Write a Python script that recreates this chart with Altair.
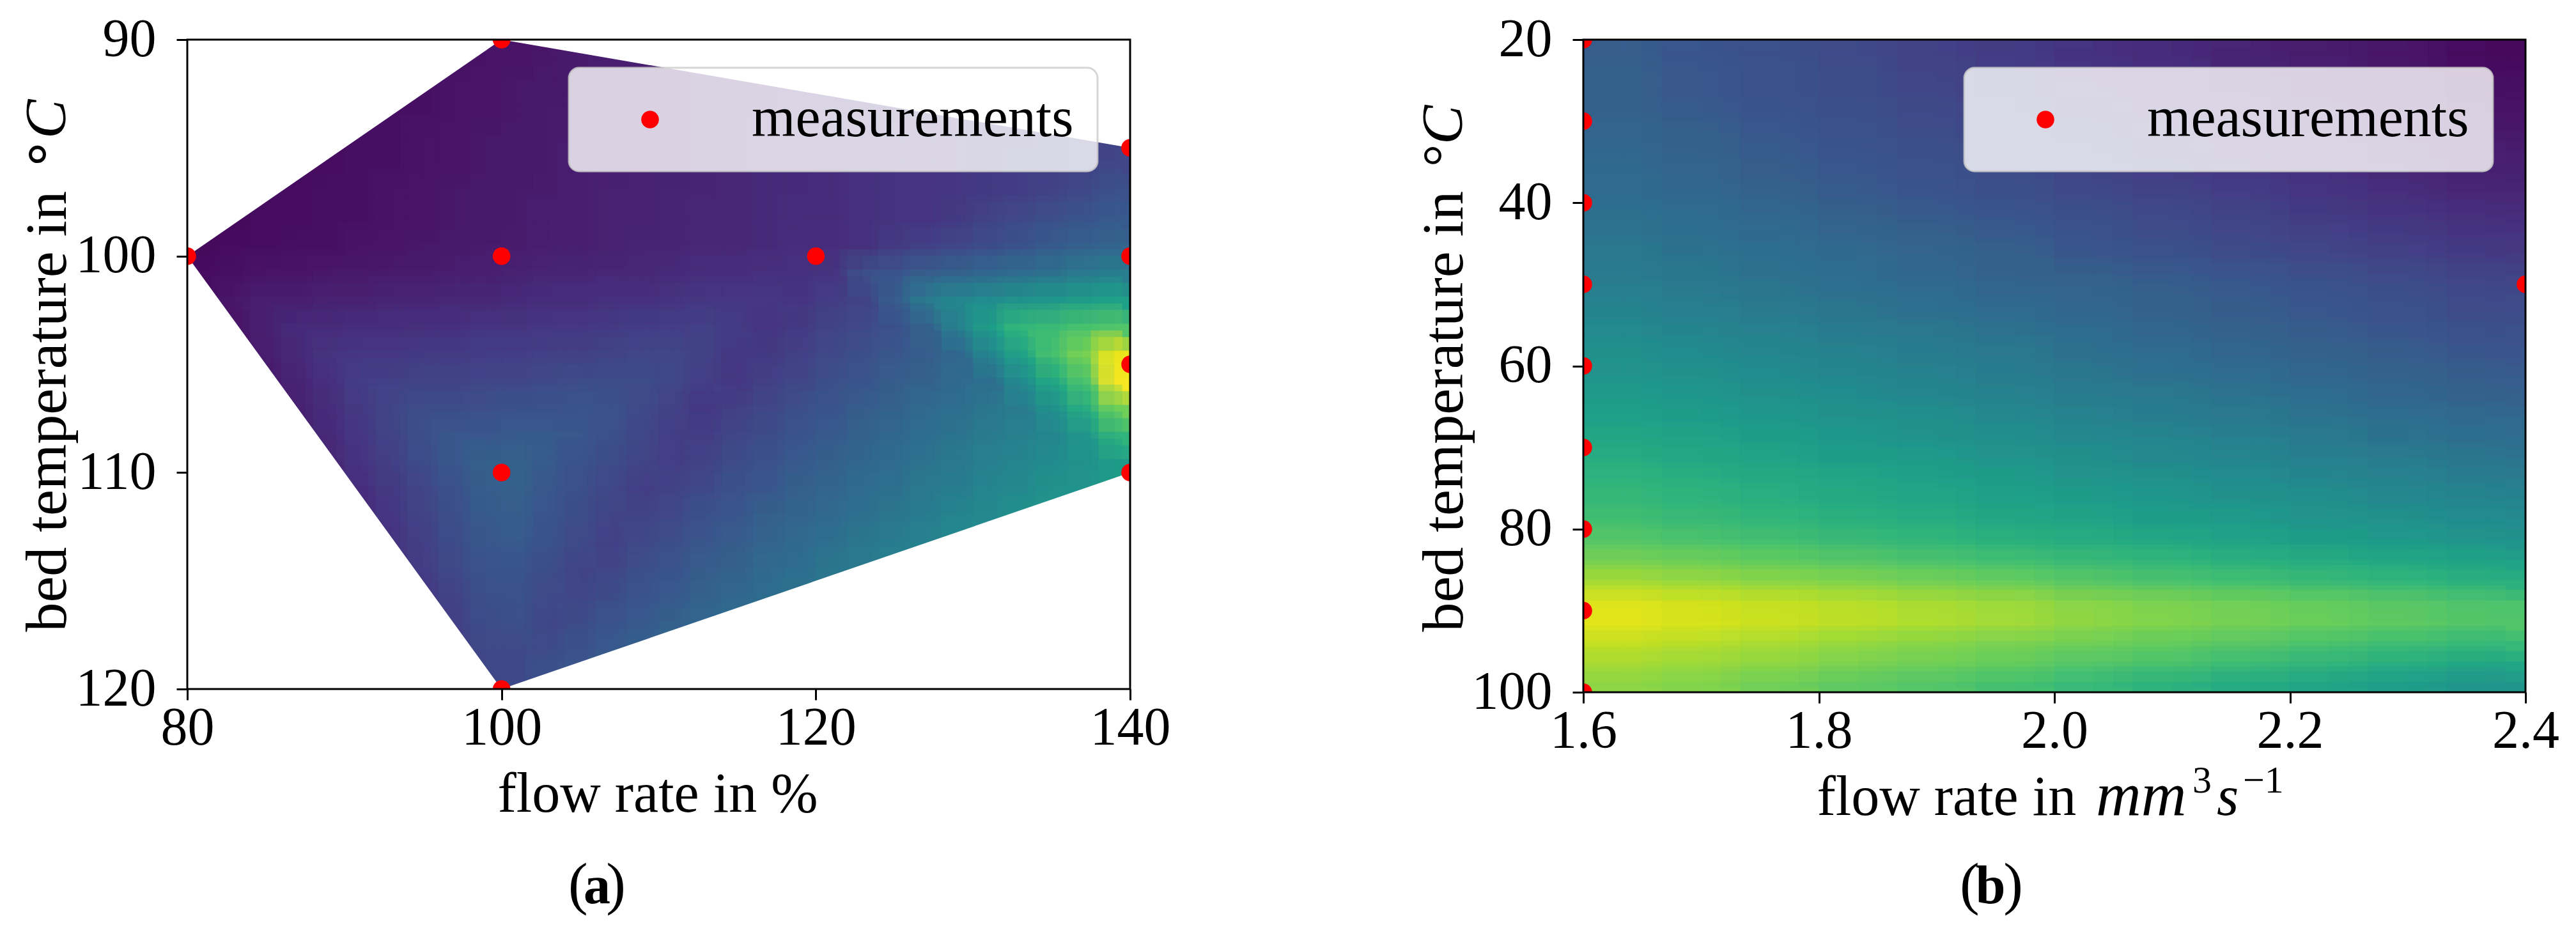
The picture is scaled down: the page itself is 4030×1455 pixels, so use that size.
import altair as alt
import pandas as pd

SERIF = "Liberation Serif"
LEGEND_LABEL = "measurements"

# Panel (a): colour level (0 = darkest, 1 = brightest), one list per row,
# flow rate 80..140 in 30 columns, bed temperature 90..120 in 24 rows
a_r01 = [.00,.01,.01,.02,.02,.03,.03,.04,.04,.05,.05,.06,.07,.08,.08,.09,.10,.11,.11,.12,.13,.14,.14,.15,.16,.17,.17,.18,.19,.19]
a_r02 = [.01,.01,.02,.02,.03,.03,.04,.04,.05,.05,.06,.06,.07,.08,.08,.09,.10,.11,.11,.12,.13,.14,.14,.15,.16,.17,.17,.18,.19,.19]
a_r03 = [.01,.01,.02,.02,.03,.03,.04,.04,.05,.05,.06,.07,.07,.08,.09,.09,.10,.11,.11,.12,.13,.14,.14,.15,.16,.17,.17,.18,.19,.20]
a_r04 = [.01,.02,.02,.03,.03,.04,.04,.05,.05,.06,.06,.07,.07,.08,.09,.09,.10,.11,.12,.12,.13,.14,.15,.15,.16,.17,.17,.18,.19,.20]
a_r05 = [.01,.02,.02,.03,.03,.04,.04,.05,.05,.06,.06,.07,.08,.08,.09,.09,.10,.11,.12,.12,.13,.14,.15,.15,.16,.17,.18,.18,.19,.21]
a_r06 = [.02,.02,.03,.03,.04,.04,.05,.05,.06,.06,.07,.07,.08,.09,.09,.10,.10,.11,.12,.12,.13,.14,.15,.15,.16,.17,.18,.20,.22,.25]
a_r07 = [.02,.02,.03,.03,.04,.04,.05,.05,.06,.06,.07,.08,.08,.09,.09,.10,.11,.11,.12,.13,.13,.14,.15,.15,.17,.20,.22,.24,.26,.28]
a_r08 = [.02,.03,.03,.04,.04,.05,.05,.06,.06,.07,.07,.08,.08,.09,.10,.10,.11,.11,.12,.13,.13,.14,.17,.19,.21,.23,.25,.28,.30,.32]
a_r09 = [.03,.04,.05,.05,.06,.06,.07,.07,.08,.08,.09,.10,.10,.11,.11,.12,.13,.13,.14,.14,.15,.24,.26,.29,.31,.33,.35,.37,.40,.42]
a_r10 = [.03,.06,.08,.08,.09,.09,.10,.10,.11,.11,.12,.13,.13,.14,.14,.15,.16,.16,.16,.15,.18,.20,.29,.41,.46,.48,.51,.53,.55,.57]
a_r11 = [.03,.05,.09,.12,.12,.13,.13,.14,.14,.15,.15,.16,.16,.17,.18,.18,.19,.17,.15,.17,.20,.22,.25,.31,.44,.56,.66,.68,.71,.73]
a_r12 = [.03,.05,.08,.12,.15,.16,.16,.17,.17,.18,.18,.19,.19,.20,.21,.21,.19,.16,.17,.19,.22,.24,.27,.29,.33,.46,.58,.71,.80,.97]
a_r13 = [.03,.05,.06,.10,.14,.18,.19,.20,.20,.21,.21,.22,.23,.23,.23,.21,.18,.16,.19,.21,.24,.26,.29,.31,.34,.36,.48,.60,.72,.99]
a_r14 = [.03,.05,.06,.09,.13,.17,.21,.23,.23,.24,.25,.25,.26,.25,.22,.19,.16,.19,.21,.24,.26,.29,.31,.34,.36,.39,.41,.50,.62,.78]
a_r15 = [.03,.05,.06,.08,.12,.16,.20,.24,.27,.27,.28,.28,.27,.24,.21,.18,.18,.21,.23,.26,.28,.31,.33,.36,.38,.41,.43,.46,.52,.65]
a_r16 = [.03,.05,.06,.08,.11,.15,.19,.23,.27,.30,.31,.28,.25,.23,.20,.18,.20,.23,.25,.28,.30,.33,.35,.38,.40,.43,.45,.48,.50,.54]
a_r17 = [.03,.05,.06,.08,.10,.13,.17,.21,.25,.29,.30,.27,.24,.21,.18,.20,.22,.25,.27,.30,.32,.35,.37,.40,.42,.45,.47,.50,.52,.55]
a_r18 = [.03,.05,.06,.08,.10,.12,.16,.20,.24,.28,.29,.26,.23,.20,.20,.22,.25,.27,.30,.32,.34,.37,.39,.42,.45,.47,.50,.52,.55,.57]
a_r19 = [.03,.05,.06,.08,.10,.12,.15,.19,.23,.27,.28,.25,.22,.19,.22,.24,.27,.29,.32,.34,.37,.39,.42,.44,.47,.49,.52,.54,.57,.59]
a_r20 = [.03,.05,.06,.08,.10,.12,.14,.18,.22,.26,.26,.23,.20,.21,.24,.26,.29,.31,.34,.36,.39,.41,.44,.46,.49,.51,.54,.56,.59,.61]
a_r21 = [.03,.05,.06,.08,.10,.12,.14,.16,.20,.24,.25,.22,.21,.23,.26,.28,.31,.33,.36,.38,.41,.43,.46,.48,.51,.53,.56,.58,.61,.63]
a_r22 = [.03,.05,.06,.08,.10,.12,.14,.16,.19,.23,.24,.21,.23,.26,.28,.31,.33,.36,.38,.41,.43,.46,.48,.51,.53,.56,.58,.61,.63,.66]
a_r23 = [.03,.05,.06,.08,.10,.12,.14,.16,.18,.22,.22,.23,.25,.28,.30,.33,.35,.38,.40,.43,.45,.48,.50,.53,.55,.58,.60,.63,.65,.68]
a_r24 = [.03,.05,.06,.08,.10,.12,.14,.16,.18,.21,.22,.25,.27,.30,.32,.35,.37,.40,.42,.45,.47,.50,.52,.55,.57,.60,.62,.65,.67,.70]
a_rows = [a_r01,a_r02,a_r03,a_r04,a_r05,a_r06,a_r07,a_r08,a_r09,a_r10,a_r11,a_r12,
          a_r13,a_r14,a_r15,a_r16,a_r17,a_r18,a_r19,a_r20,a_r21,a_r22,a_r23,a_r24]

# Panel (a): outline of the coloured region
a_hull_x = [80, 100, 140]
a_hull_top = [100, 90, 95]
a_hull_bottom = [100, 120, 110]

# Panel (a): measurements
a_meas_x = [80, 100, 100, 100, 100, 120, 140, 140, 140, 140]
a_meas_y = [100, 90, 100, 110, 120, 100, 95, 100, 105, 110]

# Panel (b): colour level, flow rate 1.6..2.4 in 12 columns, bed temperature 20..100 in 32 rows
b_r01 = [.29,.26,.24,.22,.19,.17,.14,.12,.09,.07,.05,.02]
b_r02 = [.30,.27,.25,.23,.20,.18,.15,.13,.10,.08,.06,.03]
b_r03 = [.30,.27,.25,.23,.21,.18,.16,.13,.11,.09,.07,.04]
b_r04 = [.31,.28,.26,.24,.22,.19,.17,.15,.12,.10,.08,.05]
b_r05 = [.32,.30,.27,.25,.23,.20,.18,.16,.13,.11,.09,.06]
b_r06 = [.33,.31,.28,.26,.24,.22,.19,.17,.15,.13,.10,.08]
b_r07 = [.34,.32,.29,.27,.25,.23,.20,.18,.16,.14,.11,.09]
b_r08 = [.35,.33,.31,.28,.26,.24,.22,.20,.18,.15,.13,.11]
b_r09 = [.37,.35,.33,.30,.28,.26,.24,.22,.20,.17,.15,.13]
b_r10 = [.38,.36,.34,.32,.30,.28,.25,.23,.21,.19,.17,.15]
b_r11 = [.40,.38,.36,.34,.32,.30,.27,.25,.23,.21,.19,.17]
b_r12 = [.41,.39,.37,.35,.33,.31,.30,.28,.26,.24,.22,.20]
b_r13 = [.43,.41,.39,.37,.35,.33,.32,.30,.28,.26,.24,.22]
b_r14 = [.45,.43,.41,.39,.37,.35,.33,.31,.29,.27,.25,.23]
b_r15 = [.48,.46,.44,.42,.40,.38,.35,.33,.31,.29,.27,.25]
b_r16 = [.50,.48,.46,.44,.42,.40,.37,.35,.33,.31,.29,.27]
b_r17 = [.52,.50,.48,.46,.44,.42,.39,.37,.35,.33,.31,.29]
b_r18 = [.55,.53,.51,.48,.46,.44,.42,.40,.38,.35,.33,.31]
b_r19 = [.57,.55,.53,.51,.49,.47,.44,.42,.40,.38,.36,.34]
b_r20 = [.60,.58,.56,.53,.51,.49,.47,.45,.43,.40,.38,.36]
b_r21 = [.62,.60,.58,.56,.54,.52,.49,.47,.45,.43,.41,.39]
b_r22 = [.65,.63,.61,.59,.57,.55,.52,.50,.48,.46,.44,.42]
b_r23 = [.67,.65,.63,.61,.59,.57,.55,.53,.51,.49,.47,.45]
b_r24 = [.70,.68,.66,.64,.62,.60,.58,.56,.54,.52,.50,.48]
b_r25 = [.74,.72,.70,.68,.66,.64,.62,.60,.58,.56,.54,.52]
b_r26 = [.80,.78,.76,.74,.72,.70,.68,.66,.64,.62,.60,.58]
b_r27 = [.87,.85,.83,.81,.79,.77,.74,.72,.70,.68,.66,.64]
b_r28 = [.95,.93,.91,.89,.87,.85,.82,.80,.78,.76,.74,.72]
b_r29 = [.96,.94,.92,.90,.88,.86,.83,.81,.79,.77,.75,.73]
b_r30 = [.91,.89,.87,.84,.82,.80,.78,.76,.74,.71,.69,.67]
b_r31 = [.87,.85,.83,.80,.78,.76,.73,.71,.68,.65,.62,.59]
b_r32 = [.83,.81,.78,.75,.73,.70,.67,.64,.61,.58,.55,.52]
b_rows = [b_r01,b_r02,b_r03,b_r04,b_r05,b_r06,b_r07,b_r08,b_r09,b_r10,b_r11,b_r12,
          b_r13,b_r14,b_r15,b_r16,b_r17,b_r18,b_r19,b_r20,b_r21,b_r22,b_r23,b_r24,
          b_r25,b_r26,b_r27,b_r28,b_r29,b_r30,b_r31,b_r32]

# Panel (b): measurements
b_meas_x = [1.6, 1.6, 1.6, 1.6, 1.6, 1.6, 1.6, 1.6, 1.6, 2.4]
b_meas_y = [20, 30, 40, 50, 60, 70, 80, 90, 100, 50]

a_x_ticks = [80, 100, 120, 140]
a_y_ticks = [90, 100, 110, 120]
b_x_ticks = [1.6, 1.8, 2.0, 2.2, 2.4]
b_y_ticks = [20, 40, 60, 80, 100]


def cells(rows, x0, x1, y0, y1, fx=0.0, fy=0.0):
    nr, nc = len(rows), len(rows[0])
    dx, dy = (x1 - x0) / nc, (y1 - y0) / nr
    return pd.DataFrame([
        dict(x=x0 + (c + fx) * dx, xe=x0 + (c + 1 + fx) * dx,
             y=y0 + (r + fy) * dy, ye=y0 + (r + 1 + fy) * dy, v=val)
        for r, row in enumerate(rows) for c, val in enumerate(row)
    ])


def text(s, x, y, size=88, angle=0, style="normal", weight="normal", align="left", font=SERIF):
    return alt.Chart(pd.DataFrame({"t": [s]})).mark_text(
        font=font, fontSize=size, angle=angle, fontStyle=style, fontWeight=weight,
        align=align, baseline="alphabetic", color="black", clip=False,
    ).encode(text="t:N", x=alt.value(x), y=alt.value(y))


def panel(rows, xdom, ydom, xticks, yticks, xfmt, xname, yname, W, H, titleX_x, titleY_y,
          meas_x, meas_y, legX, extras, masks=()):
    xs = alt.Scale(domain=xdom, nice=False, zero=False)
    ys = alt.Scale(domain=ydom, nice=False, zero=False, reverse=True)
    xax = alt.Axis(values=xticks, format=xfmt, title=xname, grid=False, domain=False,
                   tickSize=17, tickWidth=3, tickColor="black", labelFont=SERIF,
                   labelFontSize=84, labelColor="black", labelPadding=3, labelOverlap=False,
                   labelFlush=False, titleFont=SERIF, titleFontSize=88, titleFontWeight="normal",
                   titleColor="black", titleX=titleX_x, titleY=191, titleAlign="left",
                   titleBaseline="alphabetic")
    yax = alt.Axis(values=yticks, title=yname, grid=False, domain=False,
                   tickSize=17, tickWidth=3, tickColor="black", labelFont=SERIF,
                   labelFontSize=84, labelColor="black", labelPadding=32, labelOverlap=False,
                   labelFlush=False, titleFont=SERIF, titleFontSize=92, titleFontWeight="normal",
                   titleColor="black", titleX=titleY_y[0], titleY=titleY_y[1], titleAlign="left",
                   titleAngle=270, titleBaseline="alphabetic")
    vir = alt.Scale(scheme="viridis", domain=[0, 1])
    X = alt.X("x:Q", scale=xs, axis=xax)
    Y = alt.Y("y:Q", scale=ys, axis=yax)
    heat = alt.Chart(cells(rows, xdom[0], xdom[1], ydom[0], ydom[1])).mark_rect(
        clip=True, strokeWidth=1.5
    ).encode(
        x=X, x2="xe:Q", y=Y, y2="ye:Q",
        fill=alt.Fill("v:Q", scale=vir, legend=None),
        stroke=alt.Stroke("v:Q", scale=vir, legend=None),
    )
    layers = [heat]
    # offset passes of the same cells soften the steps between them
    for fx, fy, op in [(0.5, 0.0, 0.5), (0.0, 0.5, 0.5), (-0.25, -0.25, 0.33)]:
        layers.append(alt.Chart(cells(rows, xdom[0], xdom[1], ydom[0], ydom[1], fx, fy)).mark_rect(
            clip=True, opacity=op
        ).encode(x=X, x2="xe:Q", y=Y, y2="ye:Q", fill=alt.Fill("v:Q", scale=vir, legend=None)))
    for hull, edge in masks:
        layers.append(alt.Chart(pd.DataFrame({"x": a_hull_x, "y": hull, "e": [edge] * len(hull)}))
                      .mark_area(color="white", clip=True, opacity=1)
                      .encode(x=X, y=Y, y2="e:Q"))
    pts = alt.Chart(pd.DataFrame({"x": meas_x, "y": meas_y, "k": [LEGEND_LABEL] * len(meas_x)})).mark_circle(
        size=760, opacity=1, clip=True
    ).encode(
        x=X, y=Y,
        color=alt.Color("k:N", scale=alt.Scale(domain=[LEGEND_LABEL], range=["#ff0000"]),
                        legend=alt.Legend(
                            title=None, orient="none", legendX=legX, legendY=44,
                            fillColor="rgba(255,255,255,0.8)", strokeColor="rgba(204,204,204,0.8)",
                            cornerRadius=16, padding=37, symbolType="circle",
                            symbolSize=760, symbolStrokeWidth=0, symbolOffset=46,
                            labelOffset=115, labelFont=SERIF, labelFontSize=88,
                            labelColor="black", labelLimit=1000, rowPadding=0,
                        )),
    )
    layers.append(pts)
    frame = alt.Chart(pd.DataFrame({"a": [0]})).mark_rect(
        fill=None, stroke="black", strokeWidth=3, clip=False
    ).encode(x=alt.value(0), x2=alt.value(W), y=alt.value(0), y2=alt.value(H))
    layers.append(frame)
    layers.extend(extras)
    return alt.layer(*layers).resolve_scale(x="shared", y="shared").properties(width=W, height=H)


a_extras = [
    text("\u2218", -207, 207, size=88, angle=270),
    text("C", -191, 155, size=92, angle=270, style="italic"),
    text("(", 596, 1351, size=92),
    text("a", 641, 1351, size=84, weight="bold", align="center"),
    text(")", 686, 1351, size=92, align="right"),
]
b_extras = [
    text("\u00b0", -190, 199, size=88, angle=270),
    text("C", -190, 164, size=92, angle=270, style="italic"),
    text("mm", 802, 1213, size=98, style="italic"),
    text("3", 953, 1178, size=60),
    text("s", 991, 1213, style="italic"),
    text("\u22121", 1032, 1178, size=60),
    text("(", 589, 1351, size=92),
    text("b", 637, 1351, size=84, weight="bold", align="center"),
    text(")", 688, 1351, size=92, align="right"),
]

pa = panel(a_rows, [80, 140], [90, 120], a_x_ticks, a_y_ticks, "d", "flow rate in %",
           "bed temperature in", 1475, 1016, 485, (-191, 926), a_meas_x, a_meas_y,
           597, a_extras, masks=[(a_hull_top, 90), (a_hull_bottom, 120)])
pb = panel(b_rows, [1.6, 2.4], [20, 100], b_x_ticks, b_y_ticks, ".1f", "flow rate in",
           "bed temperature in", 1474, 1021, 365, (-190, 926), b_meas_x, b_meas_y,
           596, b_extras)

chart = alt.hconcat(pa, pb, spacing=709, bounds="flush").resolve_scale(
    fill="independent", stroke="independent", color="independent"
).configure_view(stroke=None).configure_legend(strokeWidth=3).properties(
    padding={"left": 8, "top": 12, "right": 5, "bottom": 5}, background="white"
)
chart.save("out.html", embed_options={"renderer": "svg", "actions": False})
